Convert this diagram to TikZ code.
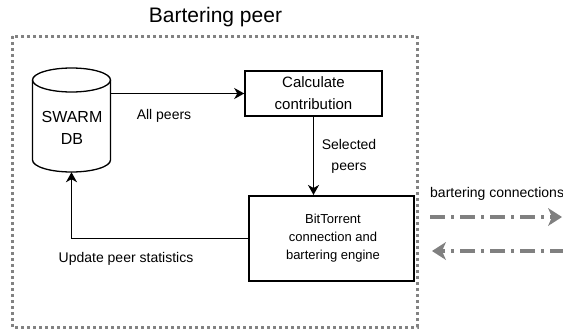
\documentclass[tikz,border=0pt]{standalone}
\usepackage{fontspec}
\setmainfont{Liberation Sans}
\usetikzlibrary{arrows.meta}
\definecolor{framegray}{RGB}{130,130,130}
\definecolor{arrgray}{RGB}{128,128,128}
\tikzset{
  box/.style={draw=black, line width=1.6pt, inner sep=0pt, align=center},
  conn/.style={draw=black, line width=1.6pt, -{Stealth[length=10pt,width=11pt,inset=3pt]}},
  lbl/.style={inner sep=0pt, font=\fontsize{14}{21}\selectfont, align=center},
  frame/.style={draw=framegray, line width=3pt, dash pattern=on 3pt off 3pt},
  barter/.style={draw=arrgray, line width=4.2pt, dash pattern=on 15pt off 6pt on 3pt off 6pt,
    -{Stealth[length=14pt,width=18pt,inset=4pt,line width=0pt]}},
}
\begin{document}
\begin{tikzpicture}[x=1pt, y=-1pt]
\useasboundingbox (0,0) rectangle (563,330);
\fill[white] (0,0) rectangle (563,330);

% title and frame
\node[inner sep=0pt, font=\fontsize{21}{24}\selectfont] (title) at (215.5,17) {Bartering peer};
\draw[frame] (12,36) rectangle (417,327);

% database cylinder
\node[minimum width=78pt, minimum height=104pt, inner sep=0pt] (db) at (71.5,120) {};
\draw[line width=1.3pt, fill=white] (32.5,80) -- (32.5,160)
   arc[start angle=180, end angle=360, x radius=39pt, y radius=12pt] -- (110.5,80);
\draw[line width=1.3pt] (71.5,80) ellipse [x radius=39pt, y radius=12pt];
\node[inner sep=0pt, font=\fontsize{16}{22}\selectfont, align=center] (dbtext) at (72,128) {SWARM\\DB};

% boxes
\node[box, line width=1.5pt, minimum width=137pt, minimum height=45pt, font=\fontsize{15}{22}\selectfont]
  (calc) at (313.5,93.5) {Calculate\\contribution};
\node[box, line width=2pt, minimum width=165pt, minimum height=85pt] (bt) at (331.5,238.5) {};
\node[inner sep=0pt, font=\fontsize{13}{18}\selectfont, align=center] (bttext) at (333,238.5)
  {BitTorrent\\connection and\\bartering engine};

% connectors
\draw[conn] (calc.west -| db.east) -- (calc.west);
\draw[conn] (calc.south) -- (calc.south |- bt.north);
\draw[conn] (bt.west) -| (db.south);

% labels
\node[lbl] (allpeers) at (164,116) {All peers};
\node[lbl] (selected) at (349,156.5) {Selected\\peers};
\node[lbl] (update) at (126,259) {Update peer statistics};

% bartering connections
\node[inner sep=0pt, anchor=west, font=\fontsize{14}{17}\selectfont] (bc) at (430,194) {bartering connections};
\coordinate (g1s) at (430,217);
\coordinate (g1e) at (562,217);
\coordinate (g2s) at (565,251);
\coordinate (g2e) at (432,251);
\draw[barter] (g1s) -- (g1e);
\draw[barter] (g2s) -- (g2e);
\end{tikzpicture}
\end{document}
